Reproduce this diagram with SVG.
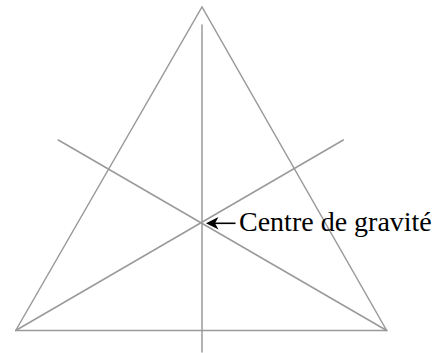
<svg xmlns="http://www.w3.org/2000/svg" width="438" height="353" viewBox="0 0 438 353">
<style>
.g{stroke:#9a9a9a;stroke-width:1.5;fill:none;stroke-linecap:round}
.arr{stroke:#000;stroke-width:1.6;fill:none}
.head{fill:#000;stroke:none}
.lbl{font-family:"Liberation Serif","Times New Roman",serif;font-size:28px;fill:#000}
</style>
<rect width="438" height="353" fill="#fff"/>
<g id="triangle">
<polyline class="g" points="15.7,330.5 202,7 386.7,330.5"/>
<line class="g" x1="15.7" y1="330.5" x2="386.7" y2="330.5" stroke-width="2"/>
</g>
<g id="medians">
<line class="g" x1="202" y1="25" x2="202" y2="352"/>
<line class="g" x1="58.3" y1="140" x2="386.7" y2="330.5"/>
<line class="g" x1="343.3" y1="140" x2="15.7" y2="330.5"/>
</g>
<g id="connectors">
<line class="arr" x1="212" y1="223.3" x2="235.5" y2="223.3"/>
<path class="head" d="M206,223.3 L218.5,217 L215,223.3 L218.5,229.6 Z"/>
</g>
<g id="label">
<text class="lbl" x="239" y="231">Centre de gravité</text>
</g>
</svg>
